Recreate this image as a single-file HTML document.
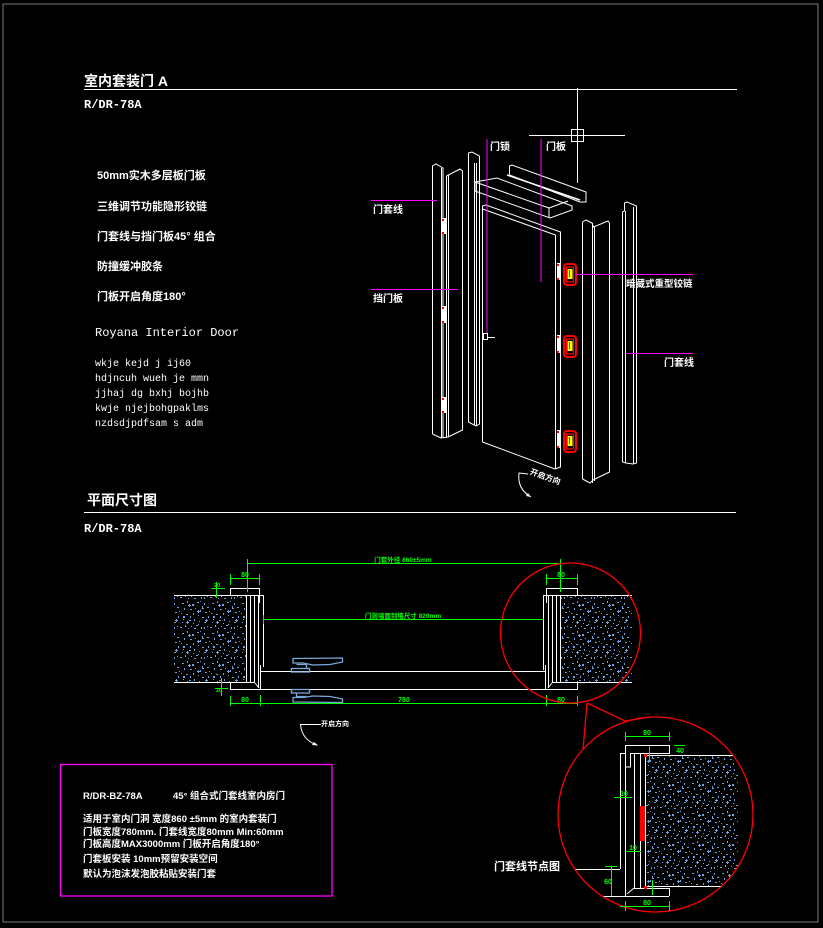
<!DOCTYPE html>
<html>
<head>
<meta charset="utf-8">
<style>
html,body{margin:0;padding:0;background:#000;}
body{width:823px;height:928px;overflow:hidden;}
svg{display:block;}
.t{font-family:"Liberation Sans","Noto Sans CJK SC",sans-serif;fill:#fff;font-weight:bold;}
.m{font-family:"Liberation Mono","Noto Sans CJK SC",monospace;fill:#fff;font-weight:bold;}
.g{font-family:"Liberation Sans","Noto Sans CJK SC",sans-serif;fill:#0f0;font-weight:bold;}
</style>
</head>
<body>
<svg width="823" height="928" viewBox="0 0 823 928" xmlns="http://www.w3.org/2000/svg">
<defs>
<pattern id="sp" x="0" y="0" width="30" height="30" patternUnits="userSpaceOnUse">
<g fill="#6fa2dc">
<rect x="2" y="3" width="2" height="1"/><rect x="7" y="1" width="1" height="2"/><rect x="12" y="4" width="2" height="2"/>
<rect x="17" y="2" width="2" height="1"/><rect x="24" y="3" width="1" height="2"/><rect x="27" y="7" width="2" height="1"/>
<rect x="4" y="8" width="1" height="2"/><rect x="10" y="9" width="2" height="1"/><rect x="15" y="8" width="1" height="1"/>
<rect x="20" y="10" width="1" height="2"/><rect x="25" y="12" width="2" height="1"/><rect x="1" y="13" width="1" height="1"/>
<rect x="6" y="14" width="2" height="1"/><rect x="13" y="13" width="1" height="2"/><rect x="18" y="15" width="1" height="1"/>
<rect x="22" y="17" width="2" height="1"/><rect x="28" y="16" width="1" height="2"/><rect x="3" y="19" width="1" height="1"/>
<rect x="9" y="20" width="2" height="1"/><rect x="14" y="19" width="1" height="2"/><rect x="19" y="21" width="1" height="1"/>
<rect x="24" y="22" width="2" height="1"/><rect x="5" y="25" width="1" height="2"/><rect x="11" y="26" width="1" height="1"/>
<rect x="16" y="25" width="2" height="1"/><rect x="21" y="27" width="1" height="2"/><rect x="27" y="26" width="1" height="1"/>
<rect x="8" y="28" width="1" height="1"/><rect x="2" y="22" width="1" height="1"/><rect x="13" y="23" width="1" height="1"/>
<rect x="8" y="5" width="3" height="1"/><rect x="9" y="4" width="1" height="3"/>
<rect x="22" y="6" width="1" height="3"/><rect x="22" y="8" width="2" height="1"/>
<rect x="17" y="11" width="3" height="1"/><rect x="18" y="10" width="1" height="3"/>
<rect x="3" y="16" width="2" height="2"/><rect x="26" y="19" width="1" height="3"/><rect x="25" y="20" width="3" height="1"/>
<rect x="10" y="16" width="1" height="2"/><rect x="6" y="22" width="3" height="1"/><rect x="7" y="21" width="1" height="3"/>
<rect x="18" y="24" width="1" height="1"/><rect x="14" y="28" width="2" height="1"/><rect x="24" y="27" width="1" height="2"/>
<rect x="29" y="11" width="1" height="1"/><rect x="0" y="27" width="2" height="1"/><rect x="20" y="1" width="1" height="1"/>
</g>
</pattern>
<clipPath id="cc"><circle cx="655.5" cy="814.5" r="97"/></clipPath>
</defs>

<!-- frame -->
<rect x="3" y="4" width="815" height="918" fill="none" stroke="#7a7a7a" stroke-width="1"/>

<!-- header 1 -->
<text class="t" x="84" y="86" font-size="14">室内套装门 A</text>
<line x1="84" y1="89.5" x2="737" y2="89.5" stroke="#fff" stroke-width="1"/>
<text class="m" x="84" y="108" font-size="12">R/DR-78A</text>

<text class="t" x="97" y="179" font-size="11">50mm实木多层板门板</text>
<text class="t" x="97" y="210" font-size="11">三维调节功能隐形铰链</text>
<text class="t" x="97" y="240" font-size="11">门套线与挡门板45° 组合</text>
<text class="t" x="97" y="270" font-size="11">防撞缓冲胶条</text>
<text class="t" x="97" y="300" font-size="11">门板开启角度180°</text>
<text class="m" x="95" y="336" font-size="12" style="font-weight:normal">Royana Interior Door</text>
<g class="m" font-size="10" style="font-weight:normal">
<text x="95" y="366">wkje kejd j  ij60</text>
<text x="95" y="381">hdjncuh wueh je mmn</text>
<text x="95" y="396">jjhaj dg bxhj bojhb</text>
<text x="95" y="411">kwje njejbohgpaklms</text>
<text x="95" y="426">nzdsdjpdfsam s adm</text>
</g>

<!-- crosshair -->
<g stroke="#fff" stroke-width="1" fill="none">
<line x1="577.5" y1="88" x2="577.5" y2="183"/>
<line x1="529" y1="135.5" x2="625" y2="135.5"/>
<rect x="571.5" y="129.5" width="12" height="12"/>
</g>

<!-- exploded door -->
<g stroke="#fff" stroke-width="1" fill="none">
<polyline points="432.5,434 432.5,166 436,164 443,168 443,438"/>
<line x1="441.5" y1="168" x2="441.5" y2="438"/>
<polyline points="446.5,176 460,169 462.5,171 462.5,430 448,437 441,438 432.5,434"/>
<line x1="446.5" y1="176" x2="446.5" y2="437"/>
<line x1="448.5" y1="175" x2="448.5" y2="437"/>
<polyline points="468.5,422 468.5,153 472,152 479.5,156 479.5,424 476,426 468.5,422"/>
<line x1="474.5" y1="163" x2="474.5" y2="425"/>
<line x1="476.5" y1="163" x2="476.5" y2="426"/>
<polygon points="509.5,166 512,165 586,192 586,202 580,202 509.5,175"/>
<line x1="507" y1="175" x2="580" y2="200" stroke-width="1.5"/>
<polyline points="475,182 497,178 572,206 572,210 550,218 475,191 475,182"/>
<line x1="475" y1="182" x2="549" y2="208"/>
<line x1="549" y1="208" x2="549" y2="218"/>
<line x1="549" y1="208" x2="568" y2="201"/>
<polyline points="482.5,442 482.5,206 486,205 560.5,232 560.5,467 555,469 482.5,442"/>
<line x1="482.5" y1="209" x2="555.5" y2="235"/>
<line x1="555.5" y1="235" x2="555.5" y2="469"/>
<polyline points="582.5,479 582.5,222 586,220 592,223 593.5,227 608,221 609.5,223 609.5,472 593,480 590,483 582.5,479"/>
<line x1="592.5" y1="223" x2="592.5" y2="483"/>
<line x1="594.5" y1="227" x2="594.5" y2="481"/>
<polyline points="622.5,462 622.5,212 624.5,211 624.5,203 627,202 636.5,206 636.5,463 633,464 626,463 622.5,462"/>
<line x1="625.5" y1="211" x2="625.5" y2="463"/>
<line x1="633.5" y1="207" x2="633.5" y2="464"/>
</g>
<g fill="#fff">
<rect x="442" y="218" width="4" height="16"/><rect x="442" y="306" width="4" height="17"/><rect x="442" y="397" width="4" height="16"/>
<rect x="557" y="263" width="3" height="17"/><rect x="557" y="335" width="3" height="18"/><rect x="557" y="430" width="3" height="18"/>
</g>
<g fill="#f00">
<rect x="442" y="219" width="2" height="2"/><rect x="442" y="232" width="2" height="2"/>
<rect x="442" y="307" width="2" height="2"/><rect x="442" y="321" width="2" height="2"/>
<rect x="442" y="398" width="2" height="2"/><rect x="442" y="411" width="2" height="2"/>
<rect x="557" y="264" width="2" height="2"/><rect x="557" y="278" width="2" height="2"/>
<rect x="557" y="336" width="2" height="2"/><rect x="557" y="351" width="2" height="2"/>
<rect x="557" y="431" width="2" height="2"/><rect x="557" y="446" width="2" height="2"/>
</g>
<g>
<g transform="translate(563,263)">
<rect x="1" y="1" width="12" height="21" rx="3" fill="none" stroke="#f00" stroke-width="2"/>
<rect x="3.5" y="4" width="7" height="15" fill="none" stroke="#f00" stroke-width="1.2"/>
<rect x="4.5" y="6" width="5" height="10" fill="#ff0"/>
<rect x="6" y="7" width="1" height="7" fill="#f00"/>
</g>
<g transform="translate(563,335)">
<rect x="1" y="1" width="12" height="21" rx="3" fill="none" stroke="#f00" stroke-width="2"/>
<rect x="3.5" y="4" width="7" height="15" fill="none" stroke="#f00" stroke-width="1.2"/>
<rect x="4.5" y="6" width="5" height="10" fill="#ff0"/>
<rect x="6" y="7" width="1" height="7" fill="#f00"/>
</g>
<g transform="translate(563,430)">
<rect x="1" y="1" width="12" height="21" rx="3" fill="none" stroke="#f00" stroke-width="2"/>
<rect x="3.5" y="4" width="7" height="15" fill="none" stroke="#f00" stroke-width="1.2"/>
<rect x="4.5" y="6" width="5" height="10" fill="#ff0"/>
<rect x="6" y="7" width="1" height="7" fill="#f00"/>
</g>
</g>
<g stroke="#fff" fill="none" stroke-width="1">
<rect x="483.5" y="333.5" width="4" height="6"/>
<line x1="487" y1="337.5" x2="495" y2="337.5"/>
</g>
<g stroke="#f0f" stroke-width="1" fill="none">
<line x1="487" y1="139" x2="487" y2="333"/>
<line x1="541" y1="139" x2="541" y2="282"/>
<line x1="371" y1="200.5" x2="437" y2="200.5"/>
<line x1="371" y1="289.5" x2="458" y2="289.5"/>
<line x1="576" y1="274.5" x2="693" y2="274.5"/>
<line x1="626" y1="353.5" x2="693" y2="353.5"/>
</g>
<text class="t" x="490" y="150" font-size="10">门锁</text>
<text class="t" x="546" y="150" font-size="10">门板</text>
<text class="t" x="373" y="213" font-size="10">门套线</text>
<text class="t" x="373" y="302" font-size="10">挡门板</text>
<text class="t" x="626" y="287" font-size="9.5">暗藏式重型铰链</text>
<text class="t" x="664" y="366" font-size="10">门套线</text>
<text class="t" x="529" y="478" font-size="8" transform="rotate(20 541 477)">开启方向</text>
<path d="M528,474 L519,473 Q517,489 531,497" stroke="#fff" fill="none" stroke-width="1"/>
<path d="M531,497 L526,496 L528,493 Z" fill="#fff"/>

<!-- header 2 -->
<text class="t" x="87" y="505" font-size="14">平面尺寸图</text>
<line x1="84" y1="512.5" x2="736" y2="512.5" stroke="#fff" stroke-width="1"/>
<text class="m" x="84" y="532" font-size="12">R/DR-78A</text>

<!-- plan walls -->
<rect x="174" y="595" width="73" height="87" fill="url(#sp)"/>
<rect x="560" y="595" width="72" height="87" fill="url(#sp)"/>
<g stroke="#fff" stroke-width="1" fill="none">
<line x1="174" y1="595.5" x2="247" y2="595.5"/>
<line x1="174" y1="682.5" x2="247" y2="682.5"/>
<line x1="560" y1="595.5" x2="632" y2="595.5"/>
<line x1="560" y1="682.5" x2="632" y2="682.5"/>
<polyline points="230.5,595 230.5,588.5 259.5,588.5 259.5,603"/>
<line x1="230" y1="595.5" x2="263" y2="595.5"/>
<line x1="263.5" y1="595" x2="263.5" y2="667"/>
<line x1="246.5" y1="595" x2="246.5" y2="682"/>
<line x1="250.5" y1="595" x2="250.5" y2="682"/>
<line x1="254.5" y1="595" x2="254.5" y2="683"/>
<line x1="258.5" y1="595" x2="258.5" y2="688"/>
<line x1="260.5" y1="665" x2="260.5" y2="689"/>
<polyline points="255,682.5 230.5,682.5 230.5,689.5 577.5,689.5 577.5,682"/>
<line x1="255" y1="683" x2="259" y2="688"/>
<line x1="260" y1="671.5" x2="545" y2="671.5"/>
<polyline points="546.5,603 546.5,588.5 577.5,588.5 577.5,595"/>
<line x1="543" y1="595.5" x2="577" y2="595.5"/>
<line x1="543.5" y1="595" x2="543.5" y2="670"/>
<line x1="545.5" y1="665" x2="545.5" y2="689"/>
<line x1="548.5" y1="595" x2="548.5" y2="688"/>
<line x1="552.5" y1="595" x2="552.5" y2="682"/>
<line x1="556.5" y1="595" x2="556.5" y2="682"/>
<line x1="560.5" y1="595" x2="560.5" y2="682"/>
<line x1="552" y1="682.5" x2="577" y2="682.5"/>
<line x1="548" y1="688" x2="552" y2="683"/>
</g>
<g stroke="#7aa8dc" stroke-width="1.3" fill="none">
<path d="M293,658.5 L342.5,658 L342.5,662 L330,664.5 L313,665 L303,663 L293,663 Z"/>
<path d="M296.5,664.5 L306.5,664.5 L306.5,668"/>
<rect x="291.5" y="668.5" width="18" height="3.5"/>
<rect x="291.5" y="689.5" width="18" height="3.5"/>
<path d="M296.5,693 L296.5,696.5 L306.5,696.5"/>
<path d="M293,697.5 L303,697.5 L313,696 L330,696.5 L342.5,699 L342.5,702.5 L293,702 Z"/>
</g>
<text class="t" x="321" y="726" font-size="7">开启方向</text>
<path d="M321,724.5 L300.5,724.5 Q302,740 317,745" stroke="#fff" fill="none" stroke-width="1"/>
<path d="M318,745.5 L312,745 L314,742 Z" fill="#fff"/>

<!-- green dims plan -->
<g stroke="#0f0" stroke-width="1" fill="none">
<line x1="247" y1="563.5" x2="560" y2="563.5"/>
<line x1="247.5" y1="559" x2="247.5" y2="592"/>
<line x1="560.5" y1="559" x2="560.5" y2="592"/>
<line x1="230" y1="578.5" x2="259" y2="578.5"/>
<line x1="230.5" y1="574" x2="230.5" y2="585"/>
<line x1="259.5" y1="574" x2="259.5" y2="585"/>
<line x1="546" y1="578.5" x2="577" y2="578.5"/>
<line x1="546.5" y1="574" x2="546.5" y2="585"/>
<line x1="577.5" y1="574" x2="577.5" y2="585"/>
<line x1="263" y1="619.5" x2="543" y2="619.5"/>
<line x1="263.5" y1="615" x2="263.5" y2="624"/>
<line x1="230" y1="703.5" x2="577" y2="703.5"/>
<line x1="230.5" y1="696" x2="230.5" y2="706"/>
<line x1="260.5" y1="695" x2="260.5" y2="706"/>
<line x1="546.5" y1="695" x2="546.5" y2="706"/>
<line x1="577.5" y1="696" x2="577.5" y2="706"/>
<line x1="216.5" y1="582" x2="216.5" y2="598"/>
<line x1="211" y1="588.5" x2="225" y2="588.5"/>
<line x1="221.5" y1="678" x2="221.5" y2="696"/>
<line x1="215" y1="688.5" x2="228" y2="688.5"/>
</g>
<g class="g">
<text x="403" y="562" font-size="6.5" text-anchor="middle">门套外径 860±5mm</text>
<text x="403" y="618" font-size="6.5" text-anchor="middle">门洞墙面到墙尺寸 820mm</text>
<text x="245" y="577" font-size="7" text-anchor="middle">80</text>
<text x="561" y="577" font-size="7" text-anchor="middle">80</text>
<text x="245" y="702" font-size="7" text-anchor="middle">80</text>
<text x="404" y="702" font-size="7" text-anchor="middle">780</text>
<text x="561" y="702" font-size="7" text-anchor="middle">80</text>
<text x="214" y="587" font-size="5.5">20</text>
<text x="216" y="692" font-size="5.5">20</text>
</g>

<!-- red callouts -->
<g stroke="#f00" stroke-width="1.3" fill="none">
<circle cx="570.5" cy="633" r="70"/>
<path d="M587,703 L583,750"/>
<path d="M587,703 L625,721 L650,717"/>
<circle cx="655.5" cy="814.5" r="97.5"/>
</g>

<!-- detail -->
<g clip-path="url(#cc)">
<rect x="646" y="755" width="92" height="131" fill="url(#sp)"/>
<g stroke="#fff" stroke-width="1" fill="none">
<line x1="646" y1="755.5" x2="740" y2="755.5"/>
<line x1="646" y1="886.5" x2="740" y2="886.5"/>
<line x1="560" y1="869.5" x2="620" y2="869.5"/>
<line x1="590" y1="896.5" x2="669" y2="896.5"/>
</g>
</g>
<g stroke="#fff" stroke-width="1" fill="none">
<polyline points="625.5,767 625.5,745.5 669.5,745.5 669.5,753.5 630.5,753.5 630.5,767 625.5,767"/>
<line x1="620.5" y1="753" x2="620.5" y2="869"/>
<line x1="620" y1="753.5" x2="626" y2="753.5"/>
<line x1="625.5" y1="767" x2="625.5" y2="896"/>
<line x1="634.5" y1="753" x2="634.5" y2="888"/>
<line x1="640.5" y1="753" x2="640.5" y2="888"/>
<line x1="645.5" y1="753" x2="645.5" y2="888"/>
<polyline points="634,888.5 669.5,888.5 669.5,896"/>
<line x1="627" y1="894" x2="634" y2="888"/>
</g>
<rect x="640" y="806" width="5" height="35" fill="#f00"/>
<rect x="644" y="754" width="3" height="3" fill="#f00"/>
<rect x="644" y="886" width="3" height="3" fill="#f00"/>
<g stroke="#0f0" stroke-width="1" fill="none">
<line x1="625" y1="736.5" x2="669" y2="736.5"/>
<line x1="625.5" y1="732" x2="625.5" y2="741"/>
<line x1="669.5" y1="732" x2="669.5" y2="741"/>
<line x1="649.5" y1="746" x2="649.5" y2="762"/>
<line x1="674" y1="745.5" x2="685" y2="745.5"/>
<line x1="614" y1="797.5" x2="632" y2="797.5"/>
<line x1="626" y1="851.5" x2="641" y2="851.5"/>
<line x1="611.5" y1="866" x2="611.5" y2="896"/>
<line x1="605" y1="866.5" x2="617" y2="866.5"/>
<line x1="652.5" y1="880" x2="652.5" y2="895"/>
<line x1="620" y1="906.5" x2="669" y2="906.5"/>
<line x1="625.5" y1="901" x2="625.5" y2="911"/>
<line x1="669.5" y1="901" x2="669.5" y2="911"/>
</g>
<g class="g" font-size="7">
<text x="647" y="735" text-anchor="middle">80</text>
<text x="680" y="753" text-anchor="middle">40</text>
<text x="624" y="796" text-anchor="middle">10</text>
<text x="633" y="850" text-anchor="middle">10</text>
<text x="608" y="884" text-anchor="middle">60</text>
<text x="647" y="905" text-anchor="middle">80</text>
</g>
<text class="t" x="494" y="870" font-size="11">门套线节点图</text>

<!-- info box -->
<rect x="60.5" y="764.5" width="271.5" height="131.5" fill="none" stroke="#f0f" stroke-width="1.3"/>
<g class="t" font-size="9.5">
<text x="83" y="799">R/DR-BZ-78A</text>
<text x="173" y="799">45° 组合式门套线室内房门</text>
<text x="83" y="822">适用于室内门洞 宽度860 ±5mm 的室内套装门</text>
<text x="83" y="835">门板宽度780mm. 门套线宽度80mm Min:60mm</text>
<text x="83" y="847">门板高度MAX3000mm 门板开启角度180°</text>
<text x="83" y="862">门套板安装 10mm预留安装空间</text>
<text x="83" y="877">默认为泡沫发泡胶粘贴安装门套</text>
</g>
</svg>
</body>
</html>
